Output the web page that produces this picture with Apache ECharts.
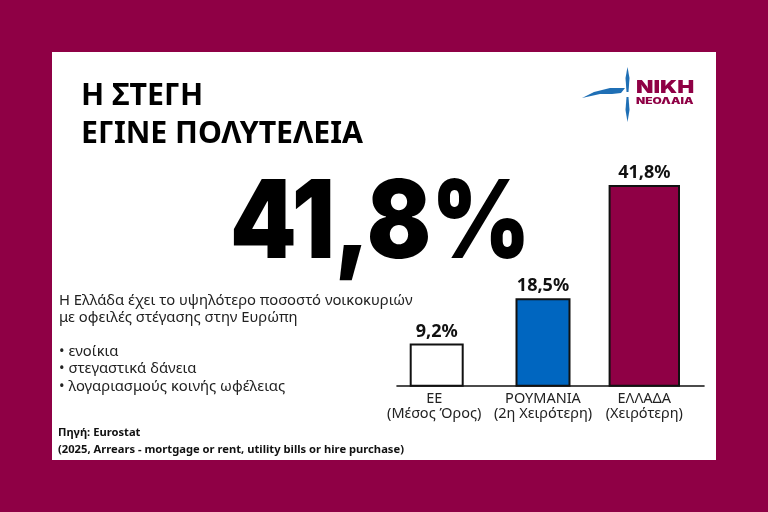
<!DOCTYPE html>
<html><head><meta charset="utf-8">
<style>html,body{margin:0;padding:0;background:#8f0045}#c{width:768px;height:512px}</style>
<script src="https://cdn.jsdelivr.net/npm/echarts@6/dist/echarts.min.js"></script>
</head><body><div id="c"></div>
<script>
const categories = ['ΕΕ\n(Μέσος Όρος)', 'ΡΟΥΜΑΝΙΑ\n(2η Χειρότερη)', 'ΕΛΛΑΔΑ\n(Χειρότερη)'];
const values = [9.2, 18.5, 41.8];
const barColors = ['#ffffff', '#0066c0', '#8f0045'];
const headline = ['Η ΣΤΕΓΗ', 'ΕΓΙΝΕ ΠΟΛΥΤΕΛΕΙΑ'];
const bigNumber = '41,8%';
const bodyLines = ['Η Ελλάδα έχει το υψηλότερο ποσοστό νοικοκυριών', 'με οφειλές στέγασης στην Ευρώπη'];
const bulletLines = ['• ενοίκια', '• στεγαστικά δάνεια', '• λογαριασμούς κοινής ωφέλειας'];
const sourceLines = ['Πηγή: Eurostat', '(2025, Arrears - mortgage or rent, utility bills or hire purchase)'];

const FONT = '"Noto Sans"';
const CRIMSON = '#8f0045';
const slots = [[397, 79.4, 54], [476.4, 133.2, 55], [609.6, 69.4, 72]];
const text = (x, y, t, size, weight, fill, family, sx) => ({type:'text', z:5, x, y, scaleX:sx||1, style:{x:0, y:0, text:t, font:`${weight} ${size}px ${family||FONT}`, fill:fill||'#111', textVerticalAlign:'middle'}});
const blade = pts => ({type:'polygon', z:5, shape:{points:pts}, style:{fill:'#1f6fb5'}});

const graphic = [
  {type:'rect', z:0, shape:{x:52,y:52,width:664,height:408}, style:{fill:'#fff'}},
  text(81, 96, headline[0], 30.3, 700, '#000'),
  text(81, 134.5, headline[1], 30.3, 700, '#000'),
  text(230, 226, bigNumber, 108, 900, '#000', 'Inter', 0.88),
  text(59, 300.5, bodyLines[0], 14.8, 400, '#222'),
  text(59, 317.5, bodyLines[1], 14.8, 400, '#222'),
  text(59, 352, bulletLines[0], 14.8, 400, '#222'),
  text(59, 369, bulletLines[1], 14.8, 400, '#222'),
  text(59, 386.5, bulletLines[2], 14.8, 400, '#222'),
  text(58, 433, sourceLines[0], 11.2, 700, '#111'),
  text(58, 449.5, sourceLines[1], 11.2, 700, '#111'),
  blade([[627.5,67],[629.5,78],[628.5,92],[626.5,92],[625.5,78]]),
  blade([[626.5,97],[628.5,97],[629.5,110],[627.5,122],[625.5,110]]),
  blade([[582,98],[594,92],[610,88],[625,88],[621,93],[612,94],[600,94]]),
  text(636, 87.5, 'ΝΙΚΗ', 18, 900, CRIMSON, 'Inter', 1.26),
  text(636, 101, 'ΝΕΟΛΑΙΑ', 8.4, 900, CRIMSON, 'Inter', 1.43)
];

const grids = slots.map(s => ({left:s[0], width:s[1], top:185, height:200.7}));
grids.push({left:397, width:307, top:185, height:200.7});

const xAxis = categories.map((c,i) => ({
  type:'category', gridIndex:i, data:[c],
  axisLine:{show:false}, axisTick:{show:false},
  axisLabel:{show:true, interval:0, margin:6, color:'#222', fontFamily:FONT, fontSize:14.5, lineHeight:15, padding:i===0?[0,5,0,0]:0}
}));
xAxis.push({type:'value', gridIndex:3, min:0, max:1, splitLine:{show:false}, axisTick:{show:false}, axisLabel:{show:false},
  axisLine:{show:true, onZero:false, lineStyle:{color:'#111', width:1.6}}});

const yAxis = [0,1,2,3].map(i => ({type:'value', gridIndex:i, min:0.5, max:41.8, show:false, splitLine:{show:false}}));

const series = values.map((v,i) => ({
  type:'bar', xAxisIndex:i, yAxisIndex:i, barWidth:slots[i][2], data:[v],
  itemStyle:{color:barColors[i], borderColor:'#111', borderWidth:2},
  label:{show:true, position:'top', distance:3, formatter:p => String(p.value).replace('.', ',') + '%', color:'#111', fontFamily:FONT, fontWeight:700, fontSize:18},
  z:3, animation:false
}));

const chart = echarts.init(document.getElementById('c'), null, {renderer:'canvas'});
chart.setOption({animation:false, backgroundColor:CRIMSON, graphic, grid:grids, xAxis, yAxis, series});
</script></body></html>
